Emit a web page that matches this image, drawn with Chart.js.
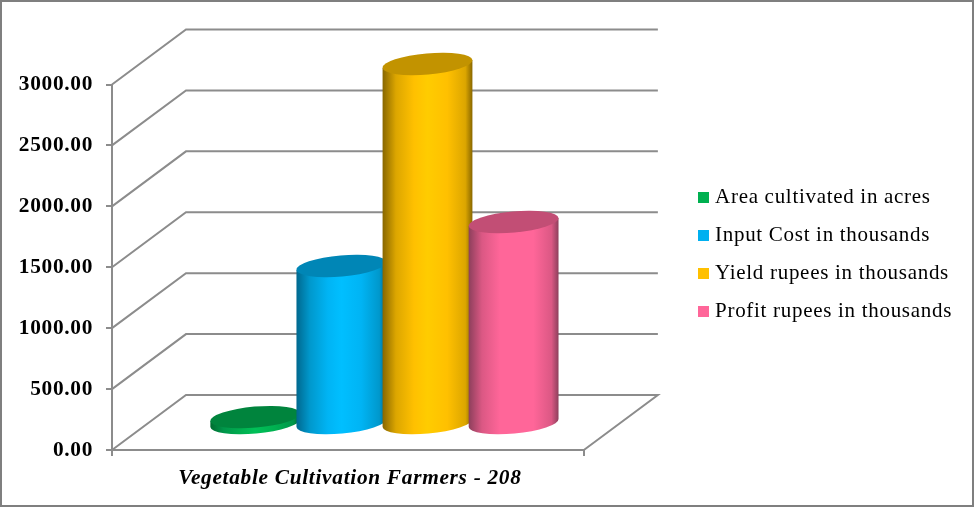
<!DOCTYPE html>
<html>
<head>
<meta charset="utf-8">
<style>
html, body { margin: 0; padding: 0; background: #fff; }
#wrap { width: 974px; height: 507px; }
</style>
<script src="https://cdn.jsdelivr.net/npm/chart.js@4"></script>
</head>
<body>
<div id="wrap"><canvas id="chart"></canvas></div>
<script>
const categories = ['Vegetable Cultivation Farmers - 208'];
const seriesNames = ['Area cultivated in acres', 'Input Cost in thousands', 'Yield rupees in thousands', 'Profit rupees in thousands'];
const areaValues = [57];
const inputValues = [1297];
const yieldValues = [2955];
const profitValues = [1658];
const legendColors = ['#00B050', '#00B0F0', '#FFC000', '#FF6699'];

// side colours of each cylinder: edge, shoulder, middle, centre, lid
const cylinderColors = [
    ['#006b30', '#00964a', '#00B050', '#00C058', '#00843D'],
    ['#00688e', '#0098cc', '#00B4F4', '#00BFFF', '#0086B6'],
    ['#876600', '#DCA600', '#FFC000', '#FFCC00', '#C29300'],
    ['#8c3f5b', '#DB5884', '#FF6699', '#FF6699', '#C24E75']
];

const gridColor = '#8c8c8c';
// back wall offset of the 3D box
const wallX = 74;
const wallY = -55;
// cylinders stand in the middle of the floor
const barX = 36.5;
const barY = -26;
const tilt = 5 * Math.PI / 180;
const lidHeight = 10.5;

function drawCylinder(ctx, bar, colors) {
    const cx = bar.x + barX;
    const top = bar.y + barY;
    const bottom = bar.base + barY;
    const a = bar.width / 2;
    const dx = a * Math.cos(tilt);
    const dy = a * Math.sin(tilt);

    const grad = ctx.createLinearGradient(cx - a, 0, cx + a, 0);
    grad.addColorStop(0, colors[0]);
    grad.addColorStop(0.15, colors[1]);
    grad.addColorStop(0.35, colors[2]);
    grad.addColorStop(0.5, colors[3]);
    grad.addColorStop(0.72, colors[2]);
    grad.addColorStop(0.92, colors[1]);
    grad.addColorStop(1, colors[0]);

    ctx.beginPath();
    ctx.moveTo(cx - dx, top + dy);
    ctx.lineTo(cx - dx, bottom + dy);
    ctx.ellipse(cx, bottom, a, lidHeight, -tilt, Math.PI, 0, true);
    ctx.lineTo(cx + dx, top - dy);
    ctx.closePath();
    ctx.fillStyle = grad;
    ctx.fill();

    ctx.beginPath();
    ctx.ellipse(cx, top, a, lidHeight, -tilt, 0, Math.PI * 2);
    ctx.fillStyle = colors[4];
    ctx.fill();
}

// legend marker as a small canvas so it can sit close to its text
function legendSquare(color) {
    const c = document.createElement('canvas');
    c.width = 11;
    c.height = 11;
    const g = c.getContext('2d');
    g.fillStyle = color;
    g.fillRect(0, 0, 11, 11);
    return c;
}

const box3d = {
    id: 'box3d',
    beforeLayout(chart) {
        chart.ctx.letterSpacing = '0.7px';
    },
    beforeDraw(chart) {
        chart.ctx.letterSpacing = '0.7px';
    },
    beforeDatasetsDraw(chart) {
        const ctx = chart.ctx;
        const { x, y } = chart.scales;
        ctx.save();
        ctx.strokeStyle = gridColor;
        ctx.lineWidth = 2;
        y.ticks.forEach((tick) => {
            const py = y.getPixelForValue(tick.value);
            ctx.beginPath();
            ctx.moveTo(x.left, py);
            ctx.lineTo(x.left + wallX, py + wallY);
            ctx.lineTo(x.right + wallX, py + wallY);
            if (tick.value === 0) ctx.lineTo(x.right, py);
            ctx.stroke();
        });
        chart.data.datasets.forEach((ds, i) => {
            chart.getDatasetMeta(i).data.forEach((bar) => {
                drawCylinder(ctx, bar, cylinderColors[i]);
            });
        });
        ctx.restore();
    },
    beforeDatasetDraw() {
        return false; // the cylinders replace the flat bars
    },
    afterDraw(chart) {
        const ctx = chart.ctx;
        ctx.save();
        ctx.strokeStyle = '#7f7f7f';
        ctx.lineWidth = 2;
        ctx.strokeRect(1, 1, chart.width - 2, chart.height - 2);
        ctx.restore();
    }
};

const datasets = [areaValues, inputValues, yieldValues, profitValues].map((values, i) => ({
    label: seriesNames[i],
    data: values,
    backgroundColor: legendColors[i],
    pointStyle: legendSquare(legendColors[i]),
    xAxisID: 'x',
    yAxisID: 'y',
    categoryPercentage: 0.73,
    barPercentage: 1.047
}));

new Chart(document.getElementById('chart'), {
    type: 'bar',
    data: { labels: categories, datasets: datasets },
    plugins: [box3d],
    options: {
        responsive: true,
        maintainAspectRatio: false,
        animation: false,
        layout: { padding: { top: 2, right: 12, left: 0, bottom: 0 } },
        scales: {
            x: {
                position: 'bottom',
                grid: { drawOnChartArea: false, color: gridColor, tickLength: 6, lineWidth: 2 },
                border: { color: gridColor, width: 2 },
                ticks: {
                    color: '#000',
                    padding: 10,
                    labelOffset: 2,
                    font: { family: '"Liberation Serif"', size: 21.33, weight: 'bold', style: 'italic' }
                },
                afterFit: (s) => { s.height = 57; }
            },
            y: {
                position: 'left',
                min: 0,
                max: 3000,
                grid: { drawOnChartArea: false, color: gridColor, tickLength: 6, lineWidth: 2 },
                border: { color: gridColor, width: 2 },
                ticks: {
                    stepSize: 500,
                    color: '#000',
                    padding: 13,
                    font: { family: '"Liberation Serif"', size: 21.33, weight: 'bold' },
                    callback: (v) => Number(v).toFixed(2)
                },
                afterFit: (s) => { s.width = 112; }
            },
            // empty axes, they only hold the gap above and right of the plot
            gapTop: {
                type: 'linear',
                axis: 'x',
                position: 'top',
                grid: { display: false },
                border: { display: false },
                ticks: { display: false },
                afterFit: (s) => { s.height = 82.5; }
            },
            gapRight: {
                type: 'linear',
                axis: 'y',
                position: 'right',
                grid: { display: false },
                border: { display: false },
                ticks: { display: false },
                afterFit: (s) => { s.width = 102; }
            }
        },
        plugins: {
            tooltip: { enabled: false },
            legend: {
                position: 'right',
                maxWidth: 320,
                labels: {
                    usePointStyle: true,
                    boxWidth: 2,
                    boxHeight: 11,
                    padding: 16.7,
                    color: '#000',
                    font: { family: '"Liberation Serif"', size: 21 }
                }
            }
        }
    }
});
</script>
</body>
</html>
